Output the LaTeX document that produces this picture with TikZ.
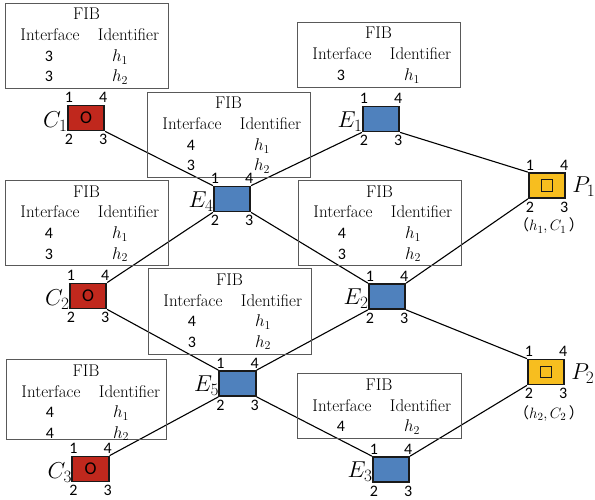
\documentclass[tikz,border=0pt]{standalone}
\usepackage{fontspec}
\DeclareFontShape{OML}{cmm}{m}{it}{<-9>cmmi8<9-11>cmmi10<11->cmmi12}{}
\newfontfamily\digitfont{Carlito}
\newfontfamily\cjk{Noto Sans CJK SC}
\usetikzlibrary{calc,backgrounds}
\definecolor{cred}{HTML}{C0281D}
\definecolor{cblue}{HTML}{4F81BD}
\definecolor{cgold}{HTML}{F7BE1F}
\definecolor{fibgray}{HTML}{595959}
\tikzset{
 router/.style={draw=black!90, line width=1.8pt, minimum width=36.5pt, minimum height=25pt, inner sep=0pt},
 crouter/.style={router, fill=cred},
 erouter/.style={router, fill=cblue},
 prouter/.style={router, fill=cgold},
 fibframe/.style={draw=fibgray, line width=0.9pt, anchor=north west, inner sep=0pt, outer sep=0pt},
 fibtxt/.style={font=\fontsize{17}{20}\selectfont, inner sep=0pt, anchor=base},
 fibnum/.style={font=\digitfont\fontsize{16}{18}\selectfont, inner sep=0pt, anchor=base},
 port/.style={font=\digitfont\fontsize{16}{18}\selectfont, inner sep=0pt},
 rlabel/.style={font=\fontsize{23}{27}\selectfont, inner sep=0pt},
 sublabel/.style={font=\fontsize{15}{17}\selectfont, inner sep=0pt, anchor=base},
 link/.style={line width=1.1pt, black},
}
% #1 name, #2 x, #3 y, #4 width, #5 height, #6 rows
\newcommand{\fibtab}[6]{%
 \node[fibframe, minimum width=#4pt, minimum height=#5pt] (#1) at (#2,#3) {};
 \node[fibtxt] at ($(#1.north)+(0,17)$) {FIB};
 \node[fibtxt] at ($(#1.north west)+(45,38)$) {Interface};
 \node[fibtxt] at ($(#1.north west)+(123.5,38)$) {Identifier};
 \foreach \n/\h [count=\k] in {#6} {
  \node[fibnum] at ($(#1.north west)+(44,38+20.5*\k)$) {\n};
  \node[fibtxt] at ($(#1.north west)+(115,38+20.5*\k)$) {$h_{\h}$};
 }%
}
\newcommand{\ports}[1]{%
 \node[port, anchor=base] at ($(#1.north west)+(2,-2)$) {1};
 \node[port, anchor=base] at ($(#1.north east)+(-2,-2)$) {4};
 \node[port, anchor=north] at ($(#1.south west)+(2,3)$) {2};
 \node[port, anchor=north] at ($(#1.south east)+(-2,3)$) {3};
}
\begin{document}
\begin{tikzpicture}[x=1pt,y=-1pt]
\useasboundingbox (0,0) rectangle (595,500);
% FIB tables
\fibtab{FC1}{5}{3}{163}{85}{3/1,3/2}
\fibtab{FE1}{297}{22}{163}{65}{3/1}
\fibtab{FE4}{147}{92}{163}{85}{4/1,3/2}
\fibtab{FC2}{5}{180}{163}{85}{4/1,3/2}
\fibtab{FE2}{298}{180}{163}{85}{4/1,3/2}
\fibtab{FE5}{148}{268}{163}{86}{4/1,3/2}
\fibtab{FC3}{6}{359}{160}{80}{4/1,4/2}
\fibtab{FE3}{297}{373}{164}{65}{4/2}
% routers
\node[crouter] (C1) at (86,118) {\digitfont\fontsize{18}{18}\selectfont O};
\node[crouter] (C2) at (88,296) {\digitfont\fontsize{18}{18}\selectfont O};
\node[crouter] (C3) at (90.5,469) {\digitfont\fontsize{18}{18}\selectfont O};
\node[erouter] (E4) at (232,199) {};
\node[erouter] (E1) at (381,119) {};
\node[erouter] (E2) at (387,296.5) {};
\node[erouter] (E5) at (237.5,383.5) {};
\node[erouter] (E3) at (391,469.5) {};
\node[prouter] (P1) at (547,185.5) {};
\node[prouter] (P2) at (546,372) {};
\node[draw=black!90, line width=1.4pt, minimum size=11.5pt, inner sep=0pt] (P1in) at (P1) {};
\node[draw=black!90, line width=1.4pt, minimum size=11.5pt, inner sep=0pt] (P2in) at (P2) {};
% links
\begin{pgfonlayer}{background}
\draw[link] (C1.south east) -- (E4.north west);
\draw[link] (E4.north east) -- (E1.south west);
\draw[link] (E1.south east) -- (P1.north west);
\draw[link] (C2.north east) -- (E4.south west);
\draw[link] (E4.south east) -- (E2.north west);
\draw[link] (E2.north east) -- (P1.south west);
\draw[link] (C2.south east) -- (E5.north west);
\draw[link] (E5.north east) -- (E2.south west);
\draw[link] (E2.south east) -- (P2.north west);
\draw[link] (C3.north east) -- (E5.south west);
\draw[link] (E5.south east) -- (E3.north west);
\draw[link] (E3.north east) -- (P2.south west);
\end{pgfonlayer}
% ports
\ports{C1}\ports{C2}\ports{C3}
\ports{E1}\ports{E2}\ports{E3}\ports{E4}\ports{E5}
\ports{P1}\ports{P2}
% labels
\node[rlabel, anchor=base east] (LC1) at ($(C1.south west)+(1,-4)$) {$C_1$};
\node[rlabel, anchor=base east] (LC2) at ($(C2.south west)+(1,-4)$) {$C_2$};
\node[rlabel, anchor=base east] (LC3) at ($(C3.south west)+(1,-4)$) {$C_3$};
\node[rlabel, anchor=base east] (LE1) at ($(E1.south west)+(1,-5)$) {$E_1$};
\node[rlabel, anchor=base east] (LE2) at ($(E2.south west)+(1,-5)$) {$E_2$};
\node[rlabel, anchor=base east] (LE3) at ($(E3.south west)+(1,-5)$) {$E_3$};
\node[rlabel, anchor=base east] (LE4) at ($(E4.south west)+(1,-5)$) {$E_4$};
\node[rlabel, anchor=base east] (LE5) at ($(E5.south west)+(1,-5)$) {$E_5$};
\node[rlabel, anchor=base west] (LP1) at ($(P1.south east)+(6,-6)$) {$P_1$};
\node[rlabel, anchor=base west] (LP2) at ($(P2.south east)+(6,-6)$) {$P_2$};
\node[sublabel] (SP1) at ($(P1.south)+(2,32)$) {{\cjk （}$h_1,C_1$\,{\cjk ）}};
\node[sublabel] (SP2) at ($(P2.south)+(3,33)$) {{\cjk （}$h_2,C_2$\,{\cjk ）}};
\end{tikzpicture}
\end{document}
